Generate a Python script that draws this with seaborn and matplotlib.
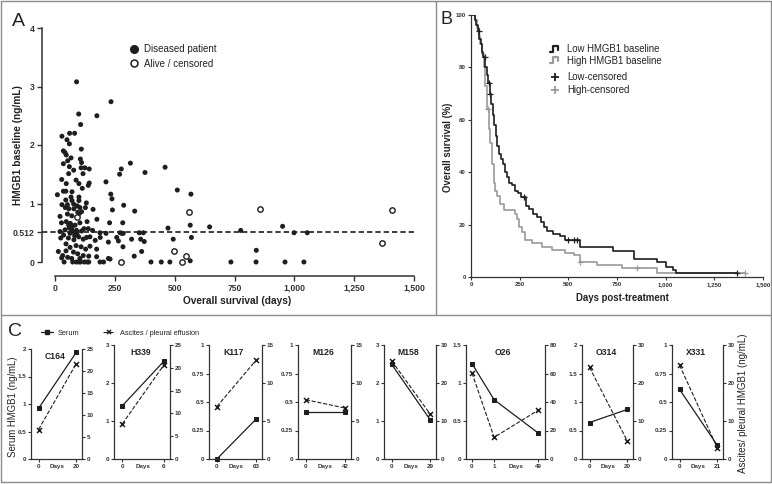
import numpy as np
import pandas as pd
import seaborn as sns
import matplotlib.pyplot as plt
from matplotlib.lines import Line2D
from matplotlib.patches import Rectangle
from matplotlib.legend_handler import HandlerBase
from matplotlib.ticker import FuncFormatter

# ---------------- Panel A: baseline HMGB1 vs overall survival ----------------
dead_days = [90, 234, 107, 99, 175, 29, 61, 82, 50, 60, 110, 35, 42, 47, 67, 106, 53, 35, 111, 60,
             109, 125, 143, 78, 57, 117, 315, 277, 270, 376, 460, 28, 88, 47, 100, 143, 139, 213, 10, 35,
             45, 71, 114, 67, 100, 233, 238, 511, 568, 45, 71, 100, 131, 29, 52, 78, 93, 287, 104, 127,
             159, 43, 58, 79, 240, 333, 21, 52, 70, 95, 111, 102, 134, 175, 228, 283, 27, 47, 64, 57,
             68, 84, 104, 472, 565, 646, 951, 776, 62, 66, 60, 72,
             21, 42, 70, 77, 90, 111, 121, 139, 157, 188, 213, 258, 272, 285, 320, 352, 369, 358, 373, 265,
             279, 999, 1054, 494, 570,
             24, 36, 56, 63, 79, 99, 118, 132, 146, 168, 189, 223, 46, 63, 88, 109, 128, 146, 174, 14,
             32, 46, 77, 95, 118, 141, 174, 28, 53, 70, 104, 223, 230, 284, 331, 362, 841, 565, 82, 92,
             38, 74, 89, 99, 107, 123, 135, 141, 188, 203, 280, 401, 444, 480, 735, 840, 961, 1040]
dead_hmgb1 = [3.08, 2.74, 2.35, 2.53, 2.50, 2.15, 2.20, 2.20, 2.09, 2.02, 1.93, 1.90, 1.87, 1.83, 1.78, 1.76, 1.73, 1.68, 1.70, 1.63,
              1.61, 1.61, 1.59, 1.57, 1.51, 1.51, 1.69, 1.59, 1.50, 1.53, 1.62, 1.41, 1.40, 1.34, 1.34, 1.35, 1.31, 1.37, 1.15, 1.21,
              1.21, 1.20, 1.26, 1.11, 1.11, 1.16, 1.08, 1.23, 1.16, 1.06, 1.05, 1.05, 1.01, 0.98, 0.98, 0.99, 0.96, 0.97, 0.93, 0.93,
              0.90, 0.93, 0.91, 0.91, 0.89, 0.87, 0.78, 0.82, 0.79, 0.85, 0.86, 0.83, 0.69, 0.73, 0.67, 0.67, 0.67, 0.69, 0.66, 0.63,
              0.63, 0.63, 0.67, 0.58, 0.63, 0.60, 0.61, 0.54, 0.62, 0.60, 0.58, 0.60,
              0.52, 0.55, 0.55, 0.51, 0.54, 0.53, 0.57, 0.57, 0.54, 0.50, 0.49, 0.42, 0.50, 0.49, 0.39, 0.50, 0.50, 0.39, 0.35, 0.36,
              0.49, 0.50, 0.50, 0.39, 0.42,
              0.41, 0.46, 0.41, 0.49, 0.38, 0.43, 0.39, 0.42, 0.43, 0.37, 0.42, 0.34, 0.31, 0.25, 0.28, 0.26, 0.22, 0.27, 0.22, 0.18,
              0.11, 0.19, 0.17, 0.14, 0.11, 0.10, 0.09, 0.07, 0.08, 0.06, 0.06, 0.06, 0.05, 0.26, 0.10, 0.18, 0.20, 0.02, 0.45, 0.47,
              0, 0, 0, 0, 0, 0, 0, 0, 0, 0, 0, 0, 0, 0, 0, 0, 0, 0]
alive_days = [93, 560, 855, 1409, 497, 546, 531, 274, 1366]
alive_hmgb1 = [0.77, 0.85, 0.91, 0.89, 0.18, 0.10, 0.0, 0.0, 0.33]
hmgb1_cutoff = 0.512

# ---------------- Panel B: Kaplan-Meier curves ----------------
low_days = [0, 20, 28, 34, 42, 50, 56, 64, 72, 80, 88, 96, 104, 112, 120, 128, 136, 145, 155, 165,
            175, 185, 195, 210, 225, 240, 255, 280, 300, 320, 340, 360, 375, 390, 420, 455, 485, 561,
            732, 838, 954, 1002, 1040, 1054]
low_surv = [100, 98, 96, 94, 91, 89, 86, 84, 80, 77, 74, 70, 66, 62, 58, 54, 50, 47, 45, 43,
            40, 38, 36, 35, 33, 32, 30.5, 27, 26, 24, 23, 21, 19, 17.5, 16.5, 15.5, 14, 11.3,
            9.9, 6.9, 5.6, 4.0, 2.7, 1.4]
low_cens = [39, 70, 91, 100, 272, 496, 530, 542, 1368]
high_days = [0, 20, 30, 40, 48, 56, 65, 74, 82, 90, 99, 108, 116, 125, 133, 150, 168, 227, 236, 245,
             262, 279, 313, 364, 416, 484, 530, 561, 646, 775, 954]
high_surv = [100, 98, 95, 92, 89, 85, 80, 73, 64, 56.5, 51, 43, 36, 33, 31, 28, 25.5, 24, 22, 19,
             17, 14, 13, 11.5, 10.3, 9, 8.4, 5.8, 4.6, 3.3, 1.4]
high_cens = [87, 561, 852, 1408]

# ---------------- Panel C: serum vs ascites follow-up ----------------
patients = ['C164', 'H339', 'K117', 'M126', 'M158', 'O26', 'O314', 'X331']
sample_days = [[0, 20], [0, 6], [0, 63], [0, 42], [0, 29], [0, 1, 49], [0, 20], [0, 21]]
serum = [[0.92, 1.94], [1.40, 2.57], [0.0, 0.35], [0.41, 0.41], [2.49, 1.03],
         [1.255, 0.78, 0.34], [0.64, 0.87], [0.61, 0.12]]
ascites = [[6.7, 21.7], [7.7, 20.6], [6.9, 13.0], [7.8, 6.7], [25.8, 11.8],
           [60.4, 15.2, 34.3], [24.1, 4.7], [24.7, 2.9]]
serum_max = [2, 3, 1, 1, 3, 1.5, 2, 1]
serum_step = [0.5, 1, 0.25, 0.25, 1, 0.5, 0.5, 0.25]
ascites_max = [25, 25, 15, 15, 30, 80, 30, 30]
ascites_step = [5, 5, 5, 5, 10, 20, 10, 10]

# layout of the small panels (pixels)
c_left = [31, 114, 209, 298, 384, 466, 582, 672]
c_right = [82, 170, 262, 351, 436, 545, 633, 723]
c_top = [349, 345, 345, 345, 345, 345, 345, 345]
c_bottom = 459

sns.set_style('ticks')
plt.rcParams['font.family'] = ['Liberation Sans', 'DejaVu Sans']
plt.rcParams['axes.edgecolor'] = '#333333'
plt.rcParams['xtick.color'] = '#333333'
plt.rcParams['ytick.color'] = '#333333'
plt.rcParams['text.color'] = '#222222'
plt.rcParams['axes.labelcolor'] = '#222222'

W, H = 772, 484
fig = plt.figure(figsize=(W / 100, H / 100), dpi=100)


def rect(l, t, r, b):
    return [l / W, 1 - b / H, (r - l) / W, (b - t) / H]


def bold_ticks(ax, size):
    for lab in ax.get_xticklabels() + ax.get_yticklabels():
        lab.set_fontweight('bold')
        lab.set_fontsize(size)


dark = '#1e1e1e'
grey = '#9a9a9a'
num_fmt = FuncFormatter(lambda v, p: f'{int(v):,}')

# ---- A ----
axA = fig.add_axes(rect(55, 28, 414, 262))
sns.scatterplot(x=dead_days, y=dead_hmgb1, color=dark, s=13, edgecolor='none',
                clip_on=False, ax=axA, legend=False)
sns.scatterplot(x=alive_days, y=alive_hmgb1, facecolor='white', edgecolor=dark, linewidth=1,
                s=15, clip_on=False, ax=axA, legend=False)
axA.axhline(hmgb1_cutoff, xmin=-13 / 359, xmax=1, color=dark, lw=1.2,
            ls=(0, (3.2, 1.8)), clip_on=False, zorder=0)
axA.set_xlim(0, 1500)
axA.set_ylim(0, 4)
sns.despine(ax=axA)
axA.spines['left'].set_position(('outward', 9.4))
axA.spines['bottom'].set_position(('outward', 10))
for s in ['left', 'bottom']:
    axA.spines[s].set_linewidth(1.1)
axA.set_xticks([0, 250, 500, 750, 1000, 1250, 1500])
axA.xaxis.set_major_formatter(num_fmt)
axA.set_yticks([0, hmgb1_cutoff, 1, 2, 3, 4])
axA.set_yticklabels(['0', '0.512', '1', '2', '3', '4'])
axA.tick_params(length=3.5, width=1, pad=2)
bold_ticks(axA, 6.2)
axA.set_ylabel('HMGB1 baseline (ng/mL)', fontsize=7.3, fontweight='bold')
axA.yaxis.set_label_coords(-0.089, 0.5)
axA.set_xlabel('Overall survival (days)', fontsize=7.3, fontweight='bold')
axA.xaxis.set_label_coords(0.507, -0.145)
hA = [Line2D([], [], ls='none', marker='o', ms=5.5, color=dark, mec=dark),
      Line2D([], [], ls='none', marker='o', ms=5.0, mfc='white', mec=dark, mew=1.1)]
axA.legend(hA, ['Diseased patient', 'Alive / censored'], loc='center left',
           bbox_to_anchor=(129 / W, 1 - 56.5 / H), bbox_transform=fig.transFigure,
           frameon=False, fontsize=7, borderpad=0, borderaxespad=0, handlelength=1.0,
           handletextpad=0.55, labelspacing=0.45)

# ---- B ----
axB = fig.add_axes(rect(471, 15, 763, 277))


def km_xy(days, surv, end):
    return days + [end], surv + [surv[-1]]


def surv_at(days, surv, t):
    idx = np.searchsorted(np.array(days), np.array(t), side='right') - 1
    return np.array(surv)[idx]


lx, ly = km_xy(low_days, low_surv, max(low_cens))
hx, hy = km_xy(high_days, high_surv, max(high_cens))
sns.lineplot(x=hx, y=hy, drawstyle='steps-post', color=grey, lw=1.2, ax=axB, estimator=None)
sns.lineplot(x=lx, y=ly, drawstyle='steps-post', color=dark, lw=1.2, ax=axB, estimator=None)
axB.plot(high_cens, surv_at(high_days, high_surv, high_cens), ls='none', marker='+',
         ms=4.5, mew=0.9, color=grey)
axB.plot(low_cens, surv_at(low_days, low_surv, low_cens), ls='none', marker='+',
         ms=4.5, mew=0.9, color=dark)
axB.set_xlim(0, 1500)
axB.set_ylim(0, 100)
sns.despine(ax=axB)
for s in ['left', 'bottom']:
    axB.spines[s].set_linewidth(0.9)
axB.set_xticks([0, 250, 500, 750, 1000, 1250, 1500])
axB.xaxis.set_major_formatter(num_fmt)
axB.set_yticks([0, 20, 40, 60, 80, 100])
axB.tick_params(length=2.5, width=0.8, pad=1.2)
bold_ticks(axB, 4.4)
axB.set_ylabel('Overall survival (%)', fontsize=6.9, fontweight='bold')
axB.yaxis.set_label_coords(-0.062, 0.496)
axB.set_xlabel('Days post-treatment', fontsize=6.9, fontweight='bold')
axB.xaxis.set_label_coords(0.517, -0.061)


class StepHandler(HandlerBase):
    def create_artists(self, legend, orig_handle, xdescent, ydescent, width, height, fontsize, trans):
        xs = np.array([0.0, 0.3, 0.3, 0.85, 0.85]) * width - xdescent
        ys = np.array([0.1, 0.1, 0.95, 0.95, 0.35]) * height - ydescent
        ln = Line2D(xs, ys, color=orig_handle.get_color(), lw=1.6, transform=trans)
        return [ln]


hB1 = [Line2D([], [], color=dark), Line2D([], [], color=grey)]
legB1 = axB.legend(hB1, ['Low HMGB1 baseline', 'High HMGB1 baseline'], loc='center left',
                   bbox_to_anchor=(550 / W, 1 - 55 / H), bbox_transform=fig.transFigure,
                   frameon=False, fontsize=6.9, borderpad=0, borderaxespad=0,
                   handlelength=0.95, handletextpad=0.8, labelspacing=0.15,
                   handler_map={Line2D: StepHandler()})
axB.add_artist(legB1)
hB2 = [Line2D([], [], ls='none', marker='+', ms=6, mew=1.3, color=dark),
       Line2D([], [], ls='none', marker='+', ms=6, mew=1.3, color=grey)]
axB.legend(hB2, ['Low-censored', 'High-censored'], loc='center left',
           bbox_to_anchor=(550 / W, 1 - 83.5 / H), bbox_transform=fig.transFigure,
           frameon=False, fontsize=6.9, borderpad=0, borderaxespad=0,
           handlelength=0.95, handletextpad=0.8, labelspacing=0.3)

# ---- C ----
gfmt = FuncFormatter(lambda v, p: f'{v:g}')
for i, name in enumerate(patients):
    ax = fig.add_axes(rect(c_left[i], c_top[i], c_right[i], c_bottom))
    n = len(sample_days[i])
    pos = [0, 1] if n == 2 else [0, 1 / 3, 1]
    sns.lineplot(x=pos, y=serum[i], color=dark, lw=0.9, marker='s', ms=3.2, mec=dark,
                 ax=ax, estimator=None, clip_on=False)
    ax.set_ylim(0, serum_max[i])
    ax.set_yticks(np.arange(0, serum_max[i] + 1e-9, serum_step[i]))
    ax.yaxis.set_major_formatter(gfmt)
    if n == 2:
        ax.set_xlim(-0.2, 1.15)
        ax.set_xticks([0, 0.5, 1])
        ax.set_xticklabels(['0', 'Days', str(sample_days[i][1])])
    else:
        ax.set_xlim(-0.09, 1.1)
        ax.set_xticks([0, 1 / 3, 2 / 3, 1])
        ax.set_xticklabels(['0', '1', 'Days', '49'])
    ticks = ax.xaxis.get_major_ticks()
    ticks[-2].tick1line.set_visible(False)
    for s in ['top', 'right']:
        ax.spines[s].set_visible(False)
    for s in ['left', 'bottom']:
        ax.spines[s].set_linewidth(0.9)
    ax.tick_params(length=2.2, width=0.8, pad=1.2)
    bold_ticks(ax, 4.5)
    ax.text(0.47, 0.93, name, transform=ax.transAxes, ha='center', va='center',
            fontsize=6.2, fontweight='bold')

    ax2 = ax.twinx()
    sns.lineplot(x=pos, y=ascites[i], color=dark, lw=0.8, ls='--', marker='x', ms=3.6,
                 mew=1.1, mec=dark, ax=ax2, estimator=None, clip_on=False)
    ax2.set_ylim(0, ascites_max[i])
    ax2.set_yticks(np.arange(0, ascites_max[i] + 1e-9, ascites_step[i]))
    ax2.yaxis.set_major_formatter(gfmt)
    for s in ['top', 'left', 'bottom']:
        ax2.spines[s].set_visible(False)
    ax2.spines['right'].set_linewidth(0.9)
    ax2.tick_params(length=2.2, width=0.8, pad=1.2)
    bold_ticks(ax2, 4.5)
    ax2.grid(False)

fig.text(13 / W, 1 - 407 / H, 'Serum HMGB1 (ng/mL)', rotation=90, ha='center', va='center',
         fontsize=6.9)
fig.text(743 / W, 1 - 403 / H, 'Ascites/ pleural HMGB1 (ng/mL)', rotation=90, ha='center',
         va='center', fontsize=7)
hC = [Line2D([], [], color=dark, lw=0.9, marker='s', ms=3),
      Line2D([], [], color=dark, lw=0.8, ls='--', marker='x', ms=3.5, mew=1.1)]
fig.legend(hC, ['Serum', 'Ascites / pleural effusion'], loc='center left',
           bbox_to_anchor=(41 / W, 1 - 333 / H), ncol=2, frameon=False, fontsize=5.3,
           borderpad=0, borderaxespad=0, handlelength=1.6, handletextpad=0.7,
           columnspacing=3.2)

# panel letters
fig.text(12 / W, 1 - 21 / H, 'A', fontsize=14, va='center', ha='left')
fig.text(441 / W, 1 - 19.5 / H, 'B', fontsize=13, va='center', ha='left')
fig.text(8 / W, 1 - 331 / H, 'C', fontsize=14, va='center', ha='left')

# panel frames
frame = '#8c8c8c'
fig.add_artist(Rectangle((1 / W, 1 - 482 / H), 770 / W, 481 / H, transform=fig.transFigure,
                         fill=False, ec=frame, lw=1))
fig.add_artist(Line2D([1 / W, 771 / W], [1 - 315 / H] * 2, transform=fig.transFigure,
                      color=frame, lw=1))
fig.add_artist(Line2D([436 / W] * 2, [1 - 1 / H, 1 - 315 / H], transform=fig.transFigure,
                      color=frame, lw=1))

fig.savefig('out.png', dpi=100)
